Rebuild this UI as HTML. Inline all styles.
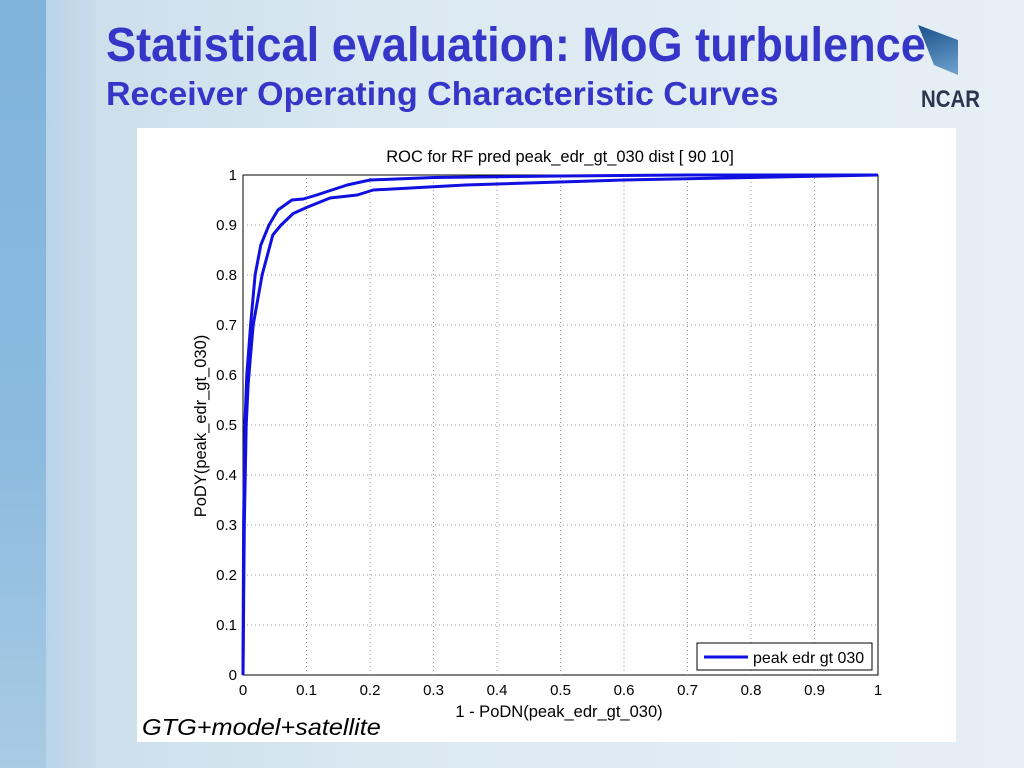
<!DOCTYPE html>
<html><head><meta charset="utf-8"><style>
body{margin:0;width:1024px;height:768px;overflow:hidden;font-family:"Liberation Sans",sans-serif;}
#slide{position:relative;width:1024px;height:768px;background:linear-gradient(90deg,#c9dcea 0,#dbe9f2 40%,#e6eff4 100%);}
#stripe{position:absolute;left:0;top:0;width:46px;height:768px;background:linear-gradient(180deg,#7fb3dc,#8dbbdf 60%,#a9cbe4);}
#stripe2{position:absolute;left:46px;top:0;width:50px;height:768px;background:linear-gradient(90deg,#b9d4e8,#c9dcea);}
.t1{position:absolute;left:106px;top:18px;font-size:48px;font-weight:bold;color:#3535c8;transform:scaleX(0.94);transform-origin:left;white-space:nowrap}
.t2{position:absolute;left:106px;top:75px;font-size:33px;font-weight:bold;color:#3535c8;transform:scaleX(1.03);transform-origin:left;white-space:nowrap}
#logo{position:absolute;left:918px;top:25px;width:40px;height:50px;background:linear-gradient(160deg,#1a4f8a,#6fa4d0);clip-path:polygon(0 0,100% 30%,100% 100%,40% 80%)}
.ncar{position:absolute;left:921px;top:86px;font-size:24px;font-weight:bold;color:#2a3550;transform:scaleX(0.85);transform-origin:left}
#panel{position:absolute;left:137px;top:128px;width:819px;height:614px;background:#fff;}
</style></head><body>
<div id="slide">
<div id="stripe"></div>
<div id="stripe2"></div>
<div id="logo"></div>
<div class="t1">Statistical evaluation: MoG turbulence</div>
<div class="t2">Receiver Operating Characteristic Curves</div>
<div class="ncar">NCAR</div>
<div id="panel"></div>
<svg id="chart" width="1024" height="768" style="position:absolute;left:0;top:0" font-family="Liberation Sans, sans-serif"></svg>
</div>
<script>
const xTicks=[0,0.1,0.2,0.3,0.4,0.5,0.6,0.7,0.8,0.9,1];
const yTicks=[0,0.1,0.2,0.3,0.4,0.5,0.6,0.7,0.8,0.9,1];
const upperX=[0,0.001,0.003,0.006,0.009,0.012,0.019,0.028,0.041,0.055,0.077,0.095,0.116,0.14,0.164,0.2,0.3,0.5,0.7,1];
const upperY=[0,0.3,0.5,0.6,0.65,0.7,0.8,0.86,0.9,0.93,0.95,0.952,0.96,0.97,0.98,0.99,0.995,0.998,1,1];
const lowerX=[0,0.002,0.005,0.008,0.012,0.016,0.03,0.047,0.06,0.079,0.1,0.137,0.18,0.205,0.35,0.6,0.8,1];
const lowerY=[0,0.3,0.5,0.58,0.64,0.7,0.8,0.88,0.9,0.923,0.935,0.954,0.96,0.97,0.98,0.99,0.995,1];
const NS='http://www.w3.org/2000/svg';
const svg=document.getElementById('chart');
const X0=243,X1=878,Y0=675,Y1=175;
const sx=v=>X0+(X1-X0)*v, sy=v=>Y0-(Y0-Y1)*v;
function mk(t,a,txt){const e=document.createElementNS(NS,t);for(const k in a)e.setAttribute(k,a[k]);if(txt!==undefined)e.textContent=txt;svg.appendChild(e);return e;}
let e;
e=mk('rect',{x:X0,y:Y1,width:X1-X0,height:Y0-Y1,fill:'#fff',stroke:'#000','stroke-width':1});


xTicks.forEach(v=>{
 if(v>0&&v<1){e=mk('line',{x1:sx(v),x2:sx(v),y1:Y0,y2:Y1,stroke:'#999','stroke-dasharray':'1,3','stroke-width':1});
 
 }
 e=mk('text',{x:sx(v),y:Y0+20,'font-size':15,'text-anchor':'middle'},String(v));
 
 
});
yTicks.forEach(v=>{
 if(v>0&&v<1){e=mk('line',{x1:X0,x2:X1,y1:sy(v),y2:sy(v),stroke:'#999','stroke-dasharray':'1,3','stroke-width':1});
 
 }
 e=mk('text',{x:X0-6,y:sy(v)+5,'font-size':15,'text-anchor':'end'},String(v));
 
 
});
function line(xs,ys,name){
 const p=xs.map((x,i)=>(i?'L':'M')+sx(x).toFixed(1)+','+sy(ys[i]).toFixed(1)).join('');
 e=mk('path',{d:p,fill:'none',stroke:'#1010e0','stroke-width':3,'stroke-linejoin':'round'});
 
 
}
line(lowerX,lowerY,'roc-curve-lower');
line(upperX,upperY,'roc-curve-upper');
e=mk('text',{x:560,y:162,'font-size':16.5,'text-anchor':'middle'},'ROC for RF pred peak_edr_gt_030 dist [ 90 10]');


e=mk('text',{x:559,y:717,'font-size':16.5,'text-anchor':'middle'},'1 - PoDN(peak_edr_gt_030)');


e=mk('text',{x:206,y:426,'font-size':16.5,'text-anchor':'middle',transform:'rotate(-90 206 426)'},'PoDY(peak_edr_gt_030)');


e=mk('rect',{x:697,y:643,width:175,height:27,fill:'#fff',stroke:'#000','stroke-width':1});


e=mk('line',{x1:704,x2:748,y1:657,y2:657,stroke:'#1010e0','stroke-width':3});


e=mk('text',{x:753,y:663,'font-size':16},'peak edr gt 030');


e=mk('text',{x:142,y:735,'font-size':23,'font-style':'italic',transform:'translate(142 0) scale(1.1 1) translate(-142 0)'},'GTG+model+satellite');


</script>
</body></html>
